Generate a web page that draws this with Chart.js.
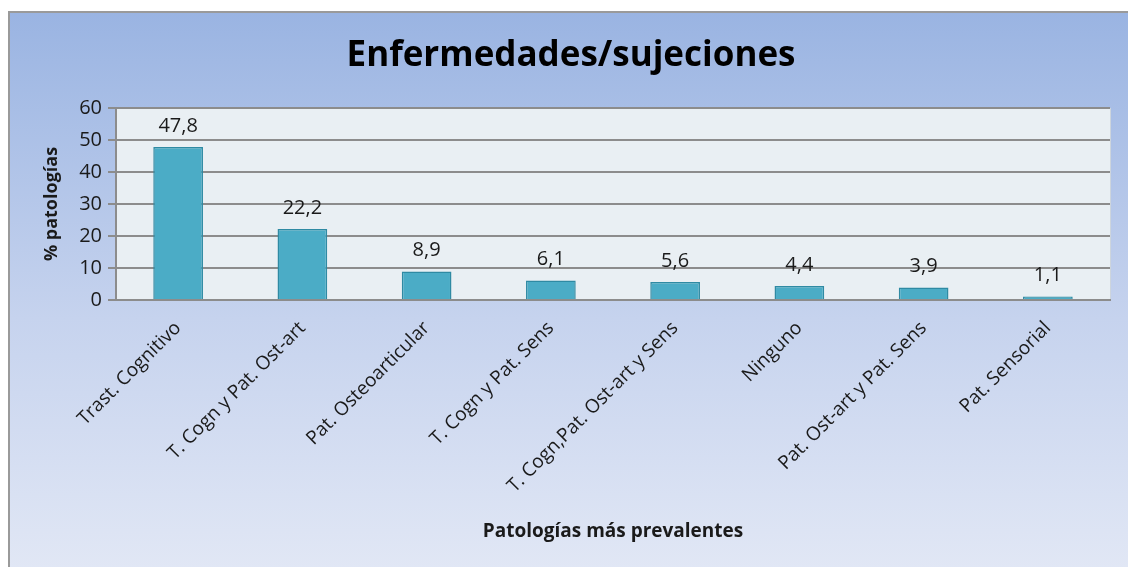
<!DOCTYPE html>
<html>
<head>
<meta charset="utf-8">
<script src="https://cdn.jsdelivr.net/npm/chart.js@4"></script>
<style>
    html, body {
        margin: 0;
        padding: 0;
        background: #ffffff;
        overflow: hidden;
    }
    .frame {
        position: absolute;
        left: 8px;
        top: 11px;
        width: 1140px;
        height: 560px;
        border: 2px solid #9a9a9a;
        box-sizing: border-box;
        background: linear-gradient(to bottom, #9ab4e2 0%, #c6d3ee 55%, #e1e7f5 100%);
    }
    .frame canvas {
        position: absolute;
        left: -2px;
        top: -2px;
    }
</style>
</head>
<body>
<div class="frame">
    <canvas id="chart" width="1136" height="556"></canvas>
</div>
<script>
const chartTitle = 'Enfermedades/sujeciones';
const categories = [
    'Trast. Cognitivo',
    'T. Cogn y Pat. Ost-art',
    'Pat. Osteoarticular',
    'T. Cogn y Pat. Sens',
    'T. Cogn,Pat. Ost-art y Sens',
    'Ninguno',
    'Pat. Ost-art y Pat. Sens',
    'Pat. Sensorial'
];
const percentages = [47.8, 22.2, 8.9, 6.1, 5.6, 4.4, 3.9, 1.1];
const yTicks = [0, 10, 20, 30, 40, 50, 60];

const fontFamily = '"Open Sans", "Noto Sans", sans-serif';

// fondo del área de trazado + título centrado sobre todo el marco
const plotBackground = {
    id: 'plotBackground',
    beforeDraw(chart) {
        const { ctx, chartArea } = chart;
        ctx.save();
        ctx.fillStyle = '#e9eff3';
        ctx.fillRect(chartArea.left, chartArea.top, chartArea.right - chartArea.left, chartArea.bottom - chartArea.top);
        ctx.strokeStyle = '#cdd5dd';
        ctx.lineWidth = 1;
        ctx.beginPath();
        ctx.moveTo(chartArea.right + 0.5, chartArea.top);
        ctx.lineTo(chartArea.right + 0.5, chartArea.bottom);
        ctx.stroke();

        ctx.font = `bold 35px ${fontFamily}`;
        ctx.fillStyle = '#000000';
        ctx.textAlign = 'center';
        ctx.textBaseline = 'middle';
        ctx.fillText(chartTitle, 563, 45);
        ctx.restore();
    }
};

const valueLabels = {
    id: 'valueLabels',
    afterDatasetsDraw(chart) {
        const { ctx } = chart;
        const meta = chart.getDatasetMeta(0);
        ctx.save();
        ctx.font = `20px ${fontFamily}`;
        ctx.fillStyle = '#1a1a1a';
        ctx.textAlign = 'center';
        ctx.textBaseline = 'middle';
        meta.data.forEach((bar, i) => {
            const text = percentages[i].toFixed(1).replace('.', ',');
            ctx.fillText(text, bar.x, bar.y - 21);
        });
        ctx.restore();
    }
};

new Chart(document.getElementById('chart'), {
    type: 'bar',
    data: {
        labels: categories,
        datasets: [{
            data: percentages,
            backgroundColor: '#4bacc6',
            borderColor: '#2f8aa3',
            borderWidth: 1.5,
            categoryPercentage: 1,
            barPercentage: 0.4
        }]
    },
    options: {
        responsive: false,
        animation: false,
        layout: {
            padding: { left: 0, right: 34, top: 97, bottom: 0 }
        },
        plugins: {
            legend: { display: false },
            tooltip: { enabled: false },
            title: { display: false }
        },
        scales: {
            x: {
                afterFit: (scale) => { scale.height = 556 - 289; },
                grid: { display: false, drawTicks: false },
                border: { color: '#8c8c8c', width: 2 },
                ticks: {
                    color: '#1a1a1a',
                    font: { family: fontFamily, size: 19 },
                    minRotation: 45,
                    maxRotation: 45,
                    padding: 17
                },
                title: {
                    display: true,
                    text: 'Patologías más prevalentes',
                    color: '#1a1a1a',
                    font: { family: fontFamily, size: 19, weight: 'bold', lineHeight: 1.2 },
                    padding: { top: 0, bottom: 24 }
                }
            },
            y: {
                min: 0,
                max: 60,
                afterFit: (scale) => { scale.width = 108; },
                afterBuildTicks: (scale) => { scale.ticks = yTicks.map((value) => ({ value })); },
                grid: { color: '#8c8c8c', lineWidth: 2, tickLength: 8 },
                border: { color: '#8c8c8c', width: 2 },
                ticks: {
                    color: '#1a1a1a',
                    font: { family: fontFamily, size: 20 },
                    padding: 6
                },
                title: {
                    display: true,
                    text: '% patologías',
                    color: '#1a1a1a',
                    font: { family: fontFamily, size: 18, weight: 'bold', lineHeight: 1.2 },
                    padding: { top: 33, bottom: 0 }
                }
            }
        }
    },
    plugins: [plotBackground, valueLabels]
});
</script>
</body>
</html>
